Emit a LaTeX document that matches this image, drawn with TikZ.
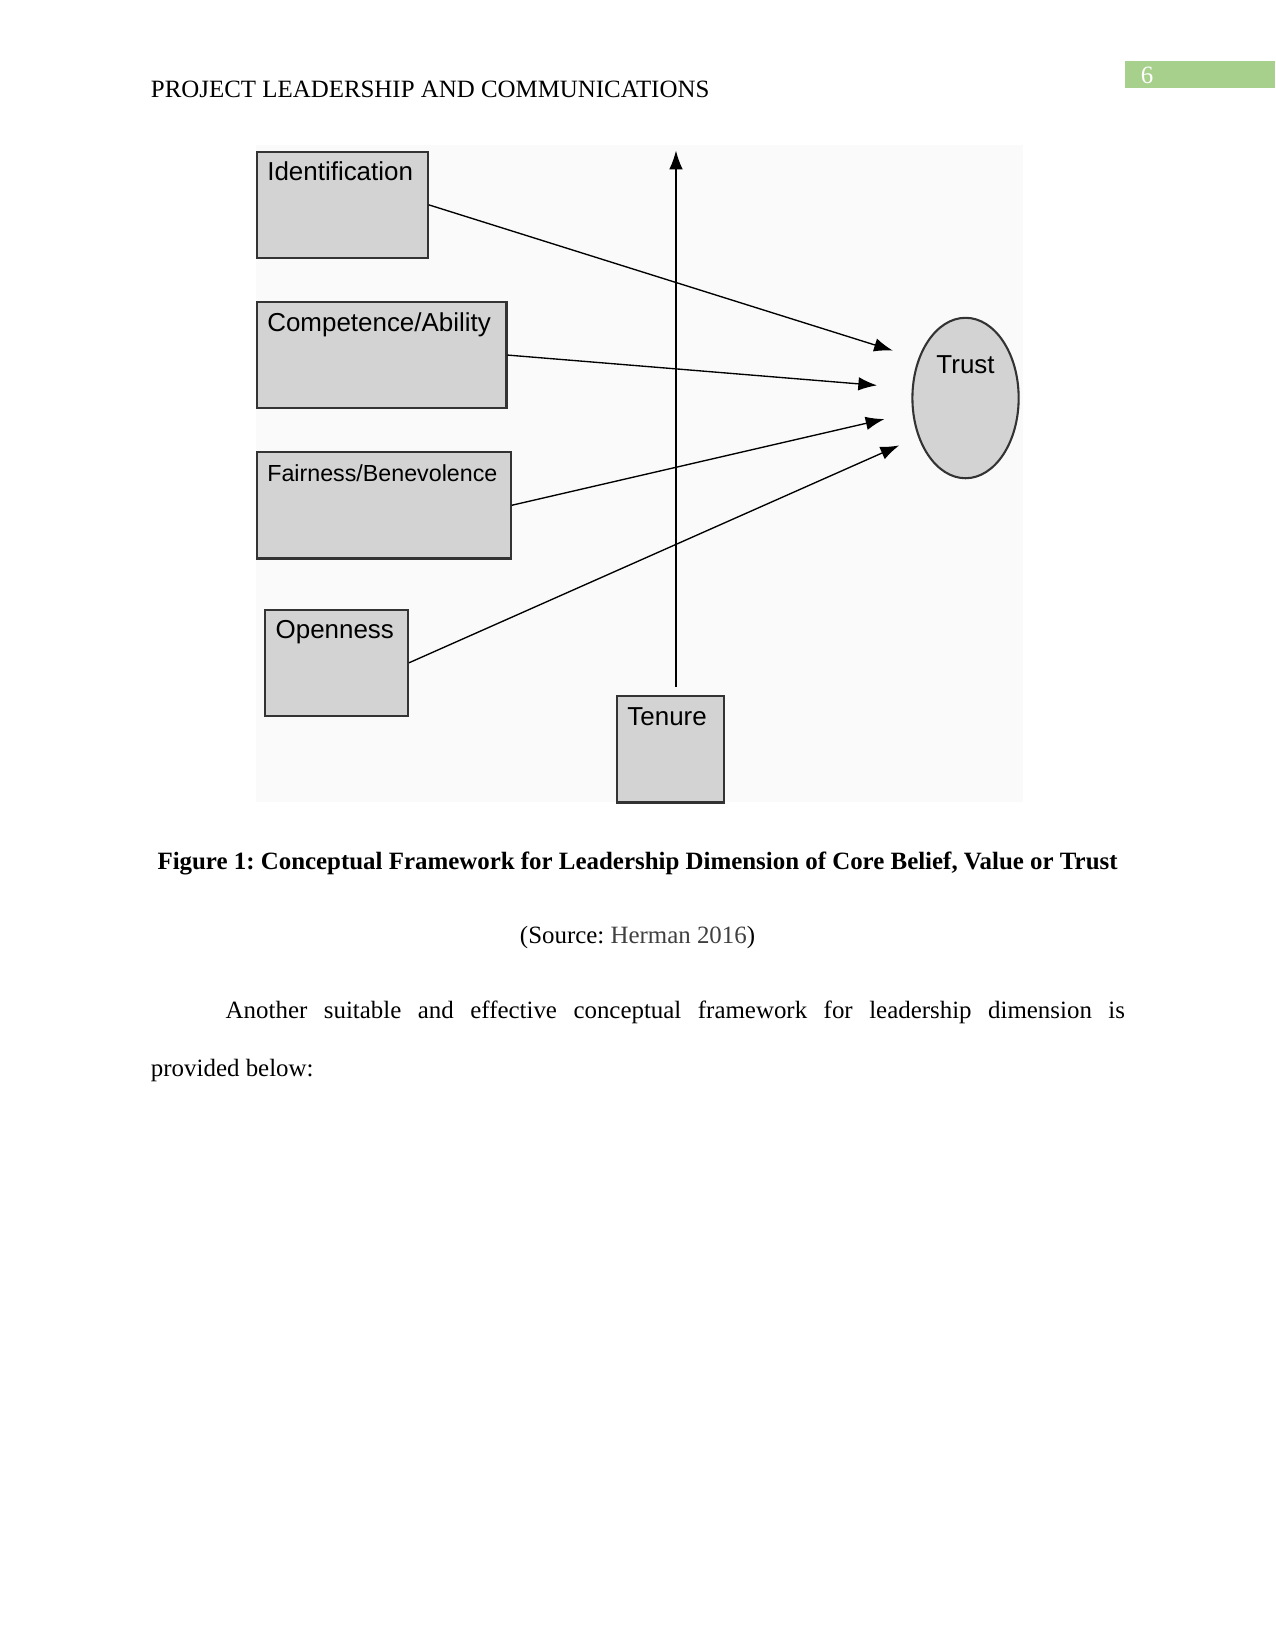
\documentclass[tikz,border=0pt]{standalone}
\usepackage{fontspec}
\setmainfont{Liberation Serif}
\newfontfamily\figfont{Liberation Sans}
\usepackage{tikz}
\usetikzlibrary{arrows.meta, positioning, shapes.geometric}
\definecolor{boxgray}{HTML}{D3D3D3}
\definecolor{edgegray}{HTML}{333333}
\definecolor{pagegreen}{HTML}{A8D08D}
\definecolor{figback}{HTML}{FAFAFA}
\definecolor{srcgray}{HTML}{404040}
\frenchspacing

\begin{document}
\begin{tikzpicture}[
  x=0.50537bp, y=-0.50537bp,
  box/.style = {draw=edgegray, line width=1bp, fill=boxgray, anchor=north west, align=left,
    inner xsep=5bp, inner ysep=4.5bp, text height=9.5bp, text depth=32.6bp,
    font=\figfont\fontsize{12.5}{15}\selectfont},
  arrow/.style = {-{Latex[length=9bp,width=6.5bp]}, line width=0.65bp},
  body/.style = {inner sep=0, font=\fontsize{12}{14}\selectfont}
]
\useasboundingbox (0,0) rectangle (1211,1568);
% running head
\fill[pagegreen] (1068,58) rectangle (1211,84);
\node[body, anchor=base west, text=white] (pg) at (1083,79) {6};
\node[body, anchor=base west] (head) at (143,93) {PROJECT LEADERSHIP AND COMMUNICATIONS};

% figure
\fill[figback] (243,138) rectangle (972,762);
\node[box, text width=72bp] (Id) at (243,143) {Identification};
\node[box, text width=109.8bp, below right=20bp and 0bp of Id.south west] (Comp) {Competence/Ability};
\node[box, text width=111.8bp, below right=20bp and 0bp of Comp.south west,
  font=\figfont\fontsize{11.2}{14}\selectfont] (Fair) {Fairness/Benevolence};
\node[box, text width=58.5bp, below right=23.5bp and 4bp of Fair.south west] (Open) {Openness};
\node[box, text width=41.5bp] (Ten) at (585,660) {Tenure};
\node[ellipse, draw=edgegray, line width=1bp, fill=boxgray, minimum width=51bp, minimum height=77bp,
  inner sep=0, text height=9bp, text depth=33bp, font=\figfont\fontsize{12.5}{15}\selectfont] (Tr) at (917,378) {Trust};

\coordinate (e1) at (848,333);
\coordinate (e2) at (833,366);
\coordinate (e3) at (840,398);
\coordinate (e4) at (854,423);
\coordinate (up) at (642,143);
\draw[arrow] (Id.east) -- (e1);
\draw[arrow] (Comp.east) -- (e2);
\draw[arrow] (Fair.east) -- (e3);
\draw[arrow] (Open.east) -- (e4);
\draw[arrow, shorten <=4bp] (Ten.north -| up) -- (up);

% caption and text
\node[body, anchor=base, font=\bfseries\fontsize{12}{14}\selectfont] (cap) at (605.5,826)
  {Figure 1: Conceptual Framework for Leadership Dimension of Core Belief, Value or Trust};
\node[body, anchor=base] (src) at (605.5,896) {(Source: \textcolor{srcgray}{Herman 2016})};
\node[body, anchor=base west] (par1) at (214,967)
  {\makebox[431.6bp][s]{Another suitable and effective conceptual framework for leadership dimension is}};
\node[body, anchor=base west] (par2) at (143,1022) {provided below:};
\end{tikzpicture}
\end{document}
